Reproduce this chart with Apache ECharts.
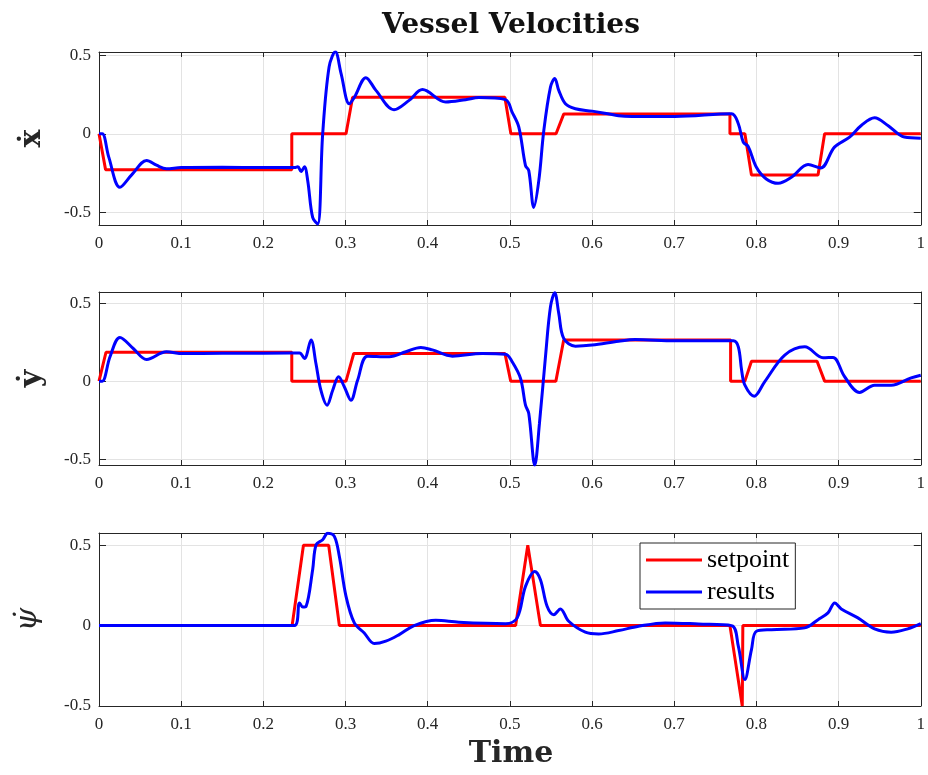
<!DOCTYPE html>
<html>
<head>
<meta charset="utf-8">
<script src="https://cdn.jsdelivr.net/npm/echarts@6/dist/echarts.min.js"></script>
<style>
  html, body { margin: 0; padding: 0; background: #fff; }
  #vessel { width: 928px; height: 775px; }
</style>
</head>
<body>
<div id="vessel"></div>
<script>
// time / value pairs
const xdotSetpoint = [[0,0],[0.008,-0.228],[0.2346,-0.228],[0.2346,0],[0.3006,0],[0.3086,0.232],[0.4939,0.232],[0.5012,0],[0.5562,0],[0.5655,0.125],[0.7678,0.125],[0.7678,0],[0.786,0],[0.794,-0.262],[0.875,-0.262],[0.883,0],[1,0]];
const xdotResults = [[0,0],[0.004,0],[0.012,-0.15],[0.0255,-0.34],[0.04,-0.26],[0.058,-0.17],[0.07,-0.2],[0.082,-0.223],[0.1,-0.215],[0.15,-0.213],[0.2,-0.215],[0.238,-0.215],[0.242,-0.21],[0.246,-0.24],[0.25,-0.21],[0.254,-0.298],[0.26,-0.532],[0.2662,-0.574],[0.2722,0],[0.28,0.425],[0.2876,0.521],[0.2946,0.383],[0.3046,0.191],[0.311,0.234],[0.3248,0.357],[0.337,0.276],[0.359,0.153],[0.3774,0.2125],[0.3936,0.281],[0.4219,0.202],[0.4462,0.217],[0.4624,0.23],[0.4947,0.217],[0.5027,0.138],[0.5109,0.043],[0.519,-0.202],[0.523,-0.234],[0.5291,-0.468],[0.5352,-0.298],[0.5413,0.021],[0.5494,0.297],[0.5546,0.351],[0.5595,0.276],[0.5676,0.191],[0.5797,0.159],[0.6,0.144],[0.6323,0.115],[0.6484,0.11],[0.701,0.11],[0.7698,0.128],[0.778,0.064],[0.784,-0.053],[0.79,-0.081],[0.8,-0.213],[0.812,-0.287],[0.8265,-0.315],[0.8426,-0.277],[0.8629,-0.196],[0.8782,-0.217],[0.895,-0.085],[0.9134,-0.021],[0.9276,0.053],[0.9438,0.102],[0.96,0.053],[0.98,-0.021],[1,-0.028]];

const ydotSetpoint = [[0,0],[0.0085,0.185],[0.2346,0.185],[0.2346,0],[0.3006,0],[0.31,0.177],[0.494,0.177],[0.501,0],[0.556,0],[0.5655,0.263],[0.7686,0.263],[0.7686,0],[0.786,0],[0.794,0.128],[0.8738,0.128],[0.883,0],[1,0]];
const ydotResults = [[0,0],[0.004,0],[0.0134,0.156],[0.0255,0.28],[0.0417,0.209],[0.0579,0.139],[0.0821,0.188],[0.102,0.177],[0.15,0.178],[0.2,0.178],[0.244,0.18],[0.25,0.145],[0.258,0.263],[0.264,0.113],[0.27,-0.058],[0.2775,-0.154],[0.2844,-0.058],[0.2916,0.028],[0.2985,-0.036],[0.3066,-0.122],[0.3147,0.006],[0.3268,0.16],[0.3532,0.156],[0.3734,0.188],[0.3916,0.216],[0.4057,0.2],[0.43,0.16],[0.4664,0.177],[0.4947,0.173],[0.5028,0.124],[0.513,0.017],[0.519,-0.154],[0.523,-0.207],[0.5303,-0.538],[0.536,-0.271],[0.5433,0.156],[0.5494,0.476],[0.5546,0.566],[0.5595,0.434],[0.5655,0.274],[0.5797,0.224],[0.6,0.231],[0.6323,0.256],[0.6525,0.267],[0.701,0.258],[0.7718,0.258],[0.778,0.22],[0.782,0.07],[0.786,-0.026],[0.7973,-0.096],[0.81,-0.004],[0.8345,0.167],[0.8588,0.22],[0.8811,0.15],[0.8932,0.152],[0.9074,0.028],[0.9256,-0.072],[0.9438,-0.026],[0.964,-0.026],[0.9883,0.021],[1,0.038]];

const psidotSetpoint = [[0,0],[0.235,0],[0.2488,0.5],[0.2795,0.5],[0.2925,0],[0.507,0],[0.5218,0.5],[0.5372,0],[0.7678,0],[0.7828,-0.5],[0.7835,0],[1,0]];
const psidotResults = [[0,0],[0.2379,0],[0.244,0.141],[0.248,0.116],[0.252,0.12],[0.26,0.348],[0.2642,0.503],[0.2722,0.534],[0.2783,0.575],[0.2864,0.555],[0.2925,0.43],[0.3006,0.182],[0.3107,0.017],[0.3228,-0.046],[0.335,-0.112],[0.349,-0.097],[0.3653,-0.056],[0.3835,0],[0.4098,0.033],[0.438,0.021],[0.4947,0.012],[0.5089,0.048],[0.519,0.244],[0.5303,0.337],[0.5372,0.286],[0.5453,0.12],[0.5534,0.068],[0.5615,0.104],[0.5716,0.027],[0.5918,-0.041],[0.608,-0.052],[0.6323,-0.031],[0.6566,-0.004],[0.689,0.017],[0.7294,0.01],[0.7698,0],[0.778,-0.128],[0.786,-0.335],[0.794,-0.149],[0.8,-0.035],[0.8184,-0.025],[0.8588,-0.014],[0.875,0.037],[0.8871,0.079],[0.8953,0.141],[0.9033,0.104],[0.9235,0.048],[0.9438,-0.02],[0.964,-0.041],[0.9842,-0.02],[1,0.012]];

const yTicks = [-0.5, 0, 0.5];
const yRanges = [[-0.58, 0.52], [-0.537, 0.571], [-0.5, 0.576]];
const yNames = ['\u1E8B', '\u1E8F', '\u03C8\u0307'];

const chartDom = document.getElementById('vessel');
const chart = echarts.init(chartDom);

const serif = 'Liberation Serif, Times New Roman, serif';
const ink = '#262626';
const gridTops = [52, 292, 533];

const grids = gridTops.map(t => ({ left: 99, right: 5, top: t, height: 173 }));

const xAxes = [];
const yAxes = [];
gridTops.forEach((t, i) => {
  // bottom axis with labels
  xAxes.push({
    type: 'value', gridIndex: i, min: 0, max: 1, interval: 0.1,
    axisLine: { show: true, onZero: false, lineStyle: { color: ink } },
    axisTick: { show: true, inside: true, length: 5, lineStyle: { color: ink } },
    axisLabel: { color: ink, fontFamily: serif, fontSize: 17, margin: 10 },
    splitLine: { show: true, lineStyle: { color: '#e3e3e3' } }
  });
  // top edge of the box
  xAxes.push({
    type: 'value', gridIndex: i, position: 'top', min: 0, max: 1, interval: 0.1,
    axisLine: { show: true, onZero: false, lineStyle: { color: ink } },
    axisTick: { show: true, inside: true, length: 5, lineStyle: { color: ink } },
    axisLabel: { show: false },
    splitLine: { show: false }
  });
  const nameStyle = i === 2
    ? { fontFamily: 'DejaVu Serif', fontStyle: 'italic', fontSize: 30, color: ink }
    : { fontFamily: 'DejaVu Serif', fontWeight: 'bold', fontSize: 30, color: ink };
  yAxes.push({
    type: 'value', gridIndex: i, min: yRanges[i][0], max: yRanges[i][1],
    name: yNames[i], nameLocation: 'middle', nameRotate: 90, nameGap: i === 2 ? 56 : 52,
    nameTextStyle: nameStyle,
    axisLine: { show: true, onZero: false, lineStyle: { color: ink } },
    axisTick: { show: true, inside: true, length: 7, customValues: yTicks, lineStyle: { color: ink } },
    axisLabel: { color: ink, fontFamily: serif, fontSize: 17, margin: 8, customValues: yTicks },
    splitLine: { show: true, lineStyle: { color: '#e3e3e3' } }
  });
  // right edge of the box
  yAxes.push({
    type: 'value', gridIndex: i, position: 'right', min: yRanges[i][0], max: yRanges[i][1],
    axisLine: { show: true, onZero: false, lineStyle: { color: ink } },
    axisTick: { show: true, inside: true, length: 7, customValues: yTicks, lineStyle: { color: ink } },
    axisLabel: { show: false, customValues: yTicks },
    splitLine: { show: false }
  });
});

const pairs = [
  [xdotSetpoint, xdotResults],
  [ydotSetpoint, ydotResults],
  [psidotSetpoint, psidotResults]
];
const series = [];
pairs.forEach((p, i) => {
  series.push({
    name: 'setpoint', type: 'line', xAxisIndex: i * 2, yAxisIndex: i * 2,
    data: p[0], symbol: 'none', lineStyle: { color: '#ff0000', width: 3 },
    itemStyle: { color: '#ff0000' }, z: 2
  });
  series.push({
    name: 'results', type: 'line', xAxisIndex: i * 2, yAxisIndex: i * 2,
    data: p[1], symbol: 'none', smooth: 0.35, lineStyle: { color: '#0000ff', width: 3 },
    itemStyle: { color: '#0000ff' }, z: 3
  });
});

const option = {
  animation: false,
  grid: grids,
  xAxis: xAxes,
  yAxis: yAxes,
  legend: {
    data: ['setpoint', 'results'],
    orient: 'vertical',
    left: 640, top: 543,
    icon: 'rect', itemWidth: 56, itemHeight: 3, itemGap: 6,
    padding: [4, 6, 4, 6],
    backgroundColor: '#fff',
    borderColor: ink, borderWidth: 1,
    textStyle: { fontFamily: serif, fontSize: 26, color: '#000' },
    selectedMode: false
  },
  graphic: [
    {
      type: 'text',
      style: {
        text: 'Vessel Velocities', x: 511, y: 26, textAlign: 'center', textVerticalAlign: 'middle',
        font: 'bold 28px "DejaVu Serif"', fill: '#111'
      }
    },
    {
      type: 'text',
      style: {
        text: 'Time', x: 511, y: 754, textAlign: 'center', textVerticalAlign: 'middle',
        font: 'bold 30px "DejaVu Serif"', fill: ink
      }
    }
  ],
  series: series
};

chart.setOption(option);
</script>
</body>
</html>
